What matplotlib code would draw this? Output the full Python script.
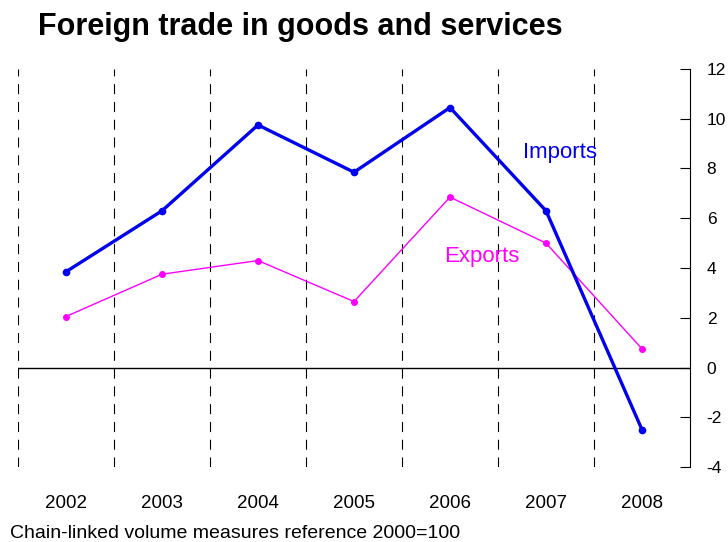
import matplotlib
matplotlib.use("Agg")
import matplotlib.pyplot as plt

years = ["2002", "2003", "2004", "2005", "2006", "2007", "2008"]
imports = [3.85, 6.3, 9.75, 7.85, 10.45, 6.3, -2.5]
exports = [2.05, 3.75, 4.3, 2.65, 6.85, 5.0, 0.75]
yticks = [-4, -2, 0, 2, 4, 6, 8, 10, 12]

plt.rcParams['font.family'] = ['Liberation Sans', 'DejaVu Sans']

fig = plt.figure(figsize=(7.28, 5.42), dpi=100)
ax = fig.add_axes([18/728, 1-467/542, (690-18)/728, (467-69)/542])

x = list(range(len(years)))
ax.set_xlim(-0.5, len(years) - 0.5)
ax.set_ylim(-4, 12)

for b in range(len(years)):
    ax.axvline(b - 0.5, color='black', lw=0.8, dashes=(9, 7), zorder=1)
ax.axhline(0, color='black', lw=1.0, zorder=2)

ax.plot(x, imports, color='#0000EE', lw=2.4, marker='o', ms=4.5, zorder=4)
ax.plot(x, exports, color='#FF00FF', lw=1.0, marker='o', ms=4, zorder=3)

ax.text(5.15, 8.63, "Imports", color='#0000EE', fontsize=16, ha='center', va='center')
ax.text(4.33, 4.45, "Exports", color='#FF00FF', fontsize=16, ha='center', va='center')

for s in ['top', 'left', 'bottom']:
    ax.spines[s].set_visible(False)
ax.spines['right'].set_linewidth(0.8)

ax.yaxis.tick_right()
ax.set_yticks(yticks)
ax.set_yticklabels([str(v) for v in yticks])
ax.tick_params(axis='y', direction='in', length=7, width=0.8, pad=12, labelsize=12.5)
ax.set_xticks(x)
ax.set_xticklabels(years)
ax.tick_params(axis='x', length=0, pad=20, labelsize=13.5)

fig.text(38/728, 1-27/542, "Foreign trade in goods and services", fontsize=22,
         fontweight='bold', ha='left', va='center')
fig.text(10/728, 1-533/542, "Chain-linked volume measures reference 2000=100",
         fontsize=14, ha='left', va='center')

fig.savefig("out.png", dpi=100)
